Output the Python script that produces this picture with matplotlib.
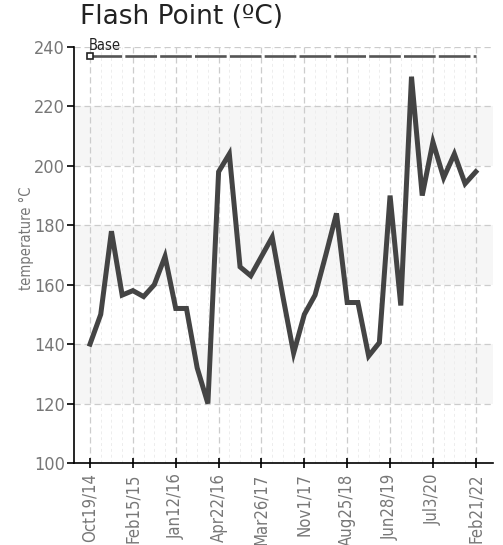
import matplotlib.pyplot as plt
import numpy as np

# Flash point readings, one per sample (categorical x axis)
flash_point = [140, 150, 178, 156.5, 158, 156, 160, 169.5, 152, 152,
               132, 120, 198, 204, 166, 163, 169.5, 176, 156, 137,
               150, 156.5, 170, 184, 154, 154, 136, 140.5, 190, 153,
               230, 190, 208, 196, 204, 194, 198]
base_value = 237
tick_labels = ["Oct19/14", "Feb15/15", "Jan12/16", "Apr22/16", "Mar26/17",
               "Nov1/17", "Aug25/18", "Jun28/19", "Jul3/20", "Feb21/22"]
y_ticks = [100, 120, 140, 160, 180, 200, 220, 240]

narrow = ["Liberation Sans Narrow", "DejaVu Sans"]
grey_txt = "#777777"
cond = dict(fontfamily=narrow, fontstretch="condensed")

fig = plt.figure(figsize=(5.03, 5.45), dpi=100)
ax = fig.add_axes([0.147, 0.1505, 0.833, 0.7633])

n = len(flash_point)
x = np.arange(n)
ax.set_xlim(-1.5, n - 1 + 1.6)
ax.set_ylim(100, 240)

# alternating bands
for lo in [120, 160, 200]:
    ax.axhspan(lo, lo + 20, color="#f6f6f6", zorder=0, lw=0)

# grid
ax.set_yticks(y_ticks)
ax.set_xticks(x[::4])
ax.set_xticks(x, minor=True)
ax.grid(True, axis="y", color="#cccccc", ls=(0, (5, 3)), lw=0.9, zorder=1)
ax.grid(True, axis="x", which="major", color="#cccccc", ls=(0, (5, 3)), lw=0.9, zorder=1)
ax.grid(True, axis="x", which="minor", color="#ededed", ls=(0, (3, 3)), lw=0.7, zorder=1)
ax.set_axisbelow(True)

# base line
ax.plot(x, [base_value] * n, color="#555555", lw=1.9, ls=(0, (12, 1.2)), zorder=3)
ax.plot([0], [base_value], marker="s", ms=5, mfc="white", mec="#222222", mew=1.2, zorder=4)
ax.text(-0.1, base_value + 1.0, "Base", fontsize=10.5, color="#222222",
        ha="left", va="bottom", **cond)

# data line
ax.plot(x, flash_point, color="#444444", lw=3.6, solid_joinstyle="miter", zorder=5)

ax.set_xticklabels(tick_labels, rotation=90, fontsize=12, color=grey_txt, **cond)
ax.set_yticklabels([str(v) for v in y_ticks], fontsize=13, color=grey_txt, **cond)
ax.tick_params(axis="x", which="major", direction="inout", length=7, width=1.2, color="black", pad=4)
ax.tick_params(axis="x", which="minor", length=0)
ax.tick_params(axis="y", direction="out", length=5, width=1.2, color="black", pad=1.5)

for s in ["top", "right"]:
    ax.spines[s].set_visible(False)
for s in ["left", "bottom"]:
    ax.spines[s].set_color("black")
    ax.spines[s].set_linewidth(1.2)

ax.set_ylabel("temperature °C", fontsize=10.5, color=grey_txt, **cond)
ax.yaxis.set_label_coords(-0.095, 0.54)

fig.text(0.159, 0.945, "Flash Point (ºC)", fontsize=19, color="#222222", ha="left", va="bottom")

fig.savefig("out.png", dpi=100)
